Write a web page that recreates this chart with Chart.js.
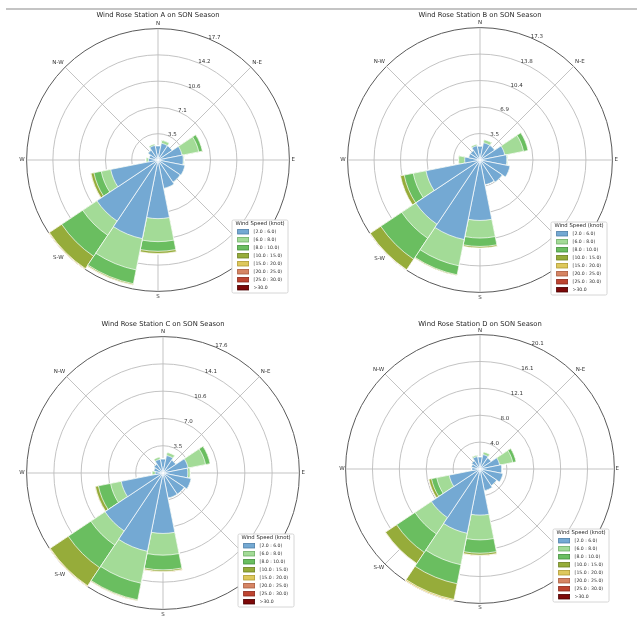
<!DOCTYPE html>
<html lang="en">
<head>
    <meta charset="UTF-8">
    <title>Wind Rose Stations A-D on SON Season</title>
    <script src="https://cdn.jsdelivr.net/npm/chart.js"></script>
    <style>
        html, body { margin: 0; padding: 0; background: #ffffff; }
        #page { position: relative; width: 637px; height: 632px; overflow: hidden; background: #ffffff; }
        #rule { position: absolute; left: 6px; top: 8px; width: 631px; height: 1.5px; background: #c4c4c4; }
        #page canvas { position: absolute; }
    </style>
</head>
<body>
<div id="page">
    <div id="rule"></div>
    <canvas id="roseA"></canvas>
    <canvas id="roseB"></canvas>
    <canvas id="roseC"></canvas>
    <canvas id="roseD"></canvas>
</div>
<script>
    // 16 sectors, clockwise from north
    const directions = ['N', 'NNE', 'NE', 'ENE', 'E', 'ESE', 'SE', 'SSE',
                        'S', 'SSW', 'SW', 'WSW', 'W', 'WNW', 'NW', 'NNW'];
    const compassNames = ['N', '', 'N-E', '', 'E', '', 'S-E', '', 'S', '', 'S-W', '', 'W', '', 'N-W', ''];

    // wind speed classes (knot)
    const speedBins = ['[2.0 : 6.0)', '[6.0 : 8.0)', '[8.0 : 10.0)', '[10.0 : 15.0)',
                       '[15.0 : 20.0)', '[20.0 : 25.0)', '[25.0 : 30.0)', '>30.0'];

    const none = [0, 0, 0, 0, 0, 0, 0, 0, 0, 0, 0, 0, 0, 0, 0, 0];

    // frequency (%) per direction and speed class - station A
    const a1 = [1.9, 2.3, 2.3, 3.3, 3.4, 3.7, 3.6, 3.9, 7.9, 10.8, 9.9, 6.5, 1.3, 1.2, 1.6, 2.0];
    const a2 = [0, 0.4, 0, 2.3, 0.1, 0, 0, 0, 3.1, 4.3, 2.3, 1.3, 0.3, 0, 0, 0.2];
    const a3 = [0, 0, 0, 0.5, 0, 0, 0, 0, 1.3, 1.9, 3.4, 1.0, 0, 0, 0, 0];
    const a4 = [0, 0, 0, 0, 0, 0, 0, 0, 0.3, 0.15, 2.0, 0.4, 0, 0, 0, 0];
    const a5 = [0, 0, 0, 0, 0, 0, 0, 0, 0.05, 0.05, 0.1, 0.05, 0, 0, 0, 0];

    // station B
    const b1 = [1.8, 2.3, 2.3, 3.3, 3.5, 4.0, 3.5, 3.3, 7.9, 10.6, 10.1, 7.2, 2.0, 1.5, 1.5, 1.9];
    const b2 = [0, 0.4, 0, 2.5, 0.1, 0, 0, 0, 2.3, 3.5, 2.2, 1.7, 0.8, 0, 0, 0.2];
    const b3 = [0, 0, 0, 0.6, 0, 0, 0, 0, 1.1, 1.2, 3.3, 1.2, 0, 0, 0, 0];
    const b4 = [0, 0, 0, 0, 0, 0, 0, 0, 0.2, 0.1, 1.65, 0.5, 0, 0, 0, 0];
    const b5 = [0, 0, 0, 0, 0, 0, 0, 0, 0, 0, 0.05, 0, 0, 0, 0, 0];

    // station C
    const c1 = [1.8, 2.3, 2.0, 3.3, 3.2, 3.7, 3.3, 3.3, 7.8, 10.3, 9.0, 5.5, 1.0, 1.2, 1.4, 1.8];
    const c2 = [0, 0.4, 0, 2.3, 0.3, 0, 0, 0, 2.8, 4.2, 2.2, 1.4, 0.4, 0, 0, 0.3];
    const c3 = [0, 0, 0, 0.6, 0, 0, 0, 0, 1.9, 2.2, 3.5, 1.6, 0, 0, 0, 0];
    const c4 = [0, 0, 0, 0, 0, 0, 0, 0, 0.2, 0.1, 2.8, 0.4, 0, 0, 0, 0];
    const c5 = [0, 0, 0, 0, 0, 0, 0, 0, 0.05, 0.05, 0.1, 0.05, 0, 0, 0, 0];

    // station D
    const d1 = [1.8, 2.2, 2.0, 3.0, 3.25, 3.5, 3.0, 3.3, 6.9, 9.8, 8.75, 4.7, 1.2, 1.3, 1.5, 1.9];
    const d2 = [0, 0.4, 0, 2.0, 0, 0, 0, 0, 3.7, 4.8, 2.95, 1.9, 0, 0, 0, 0.2];
    const d3 = [0, 0, 0, 0.5, 0, 0, 0, 0, 2.0, 2.9, 3.3, 0.8, 0, 0, 0, 0];
    const d4 = [0, 0, 0, 0, 0, 0, 0, 0, 0.3, 2.4, 2.0, 0.4, 0, 0, 0, 0];
    const d5 = [0, 0, 0, 0, 0, 0, 0, 0, 0.05, 0.2, 0.05, 0.05, 0, 0, 0, 0];

    const binColors = ['#74a9d3', '#a3db97', '#6abe60', '#96ac3a', '#dec85c', '#d68564', '#be4430', '#7d0808'];
    const binEdges  = ['#4f7fa8', '#6fae66', '#44903c', '#6d7f22', '#b09a30', '#a95a3e', '#8c2a1c', '#4a0000'];

    const FONT = 'DejaVu Sans';
    Chart.defaults.font.family = FONT;

    // panel placement on the page (px)
    const panels = [
        { id: 'roseA', title: 'Wind Rose Station A on SON Season', bins: [a1, a2, a3, a4, a5, none, none, none],
          left: 0, top: 0, width: 318, height: 316, cx: 158, cy: 161, half: 140, pad: 2, titleY: 15.7, legend: [232, 220] },
        { id: 'roseB', title: 'Wind Rose Station B on SON Season', bins: [b1, b2, b3, b4, b5, none, none, none],
          left: 318, top: 0, width: 319, height: 316, cx: 162, cy: 161, half: 141, pad: 2, titleY: 15.7, legend: [233, 222] },
        { id: 'roseC', title: 'Wind Rose Station C on SON Season', bins: [c1, c2, c3, c4, c5, none, none, none],
          left: 0, top: 316, width: 318, height: 316, cx: 163, cy: 158, half: 145, pad: 2, titleY: 8.3, legend: [238, 218] },
        { id: 'roseD', title: 'Wind Rose Station D on SON Season', bins: [d1, d2, d3, d4, d5, none, none, none],
          left: 318, top: 316, width: 319, height: 316, cx: 162, cy: 154, half: 142, pad: 1, titleY: 8.1, legend: [235, 213] }
    ];

    // radius labels at 22.5 deg and the speed legend box
    const roseExtras = {
        id: 'roseExtras',
        afterDraw(chart, args, opts) {
            const ctx = chart.ctx;
            const scale = chart.scales.compass;
            const a = 22.5 * Math.PI / 180;
            ctx.save();
            ctx.font = '5.5px "' + FONT + '"';
            ctx.fillStyle = '#333333';
            ctx.textAlign = 'left';
            ctx.textBaseline = 'middle';
            scale.ticks.forEach((t, i) => {
                if (i === 0) return;
                const d = scale.getDistanceFromCenterForValue(t.value);
                ctx.fillText(t.label, scale.xCenter + d * Math.sin(a), scale.yCenter - d * Math.cos(a) - 1);
            });

            const [lx, ly] = opts.position;
            const w = 56, h = 73;
            ctx.fillStyle = '#ffffff';
            ctx.strokeStyle = '#cccccc';
            ctx.lineWidth = 0.8;
            ctx.beginPath();
            ctx.roundRect(lx, ly, w, h, 1.5);
            ctx.fill();
            ctx.stroke();

            ctx.fillStyle = '#262626';
            ctx.textAlign = 'center';
            ctx.font = '5.3px "' + FONT + '"';
            ctx.fillText('Wind Speed (knot)', lx + w / 2, ly + 3.6);

            ctx.textAlign = 'left';
            ctx.font = '4.6px "' + FONT + '"';
            chart.data.datasets.forEach((ds, i) => {
                const y = ly + 11.7 + i * 8;
                ctx.fillStyle = binColors[i];
                ctx.strokeStyle = binEdges[i];
                ctx.lineWidth = 0.8;
                ctx.fillRect(lx + 5.6, y - 2.3, 11, 4.6);
                ctx.strokeRect(lx + 5.6, y - 2.3, 11, 4.6);
                ctx.fillStyle = '#333333';
                ctx.fillText(ds.label, lx + 21.6, y);
            });
            ctx.restore();
        }
    };

    function buildRose(p) {
        const canvas = document.getElementById(p.id);
        canvas.width = p.width;
        canvas.height = p.height;
        canvas.style.left = p.left + 'px';
        canvas.style.top = p.top + 'px';

        // stacked bars: each class drawn as the running total, smallest on top
        let running = none.slice();
        const stacks = p.bins.map(bin => {
            running = running.map((v, i) => v + bin[i]);
            return running.slice();
        });
        const rmax = Math.round(Math.max(...stacks[stacks.length - 1]) * 100) / 100;

        const datasets = stacks.map((vals, k) => ({
            label: speedBins[k],
            data: vals,
            rAxisID: 'r',
            backgroundColor: binColors[k],
            borderColor: '#ffffff',
            borderWidth: 0.7
        }));

        const titleSize = 6.8, titleLH = titleSize * 1.1;
        const areaTop = p.cy - p.half;
        const areaBottom = p.cy + p.half;
        let padL = 0, padR = 0;
        if (2 * p.cx <= p.width) padR = p.width - 2 * p.cx; else padL = 2 * p.cx - p.width;

        const labelFont = { family: FONT, size: 5.5, lineHeight: 1.2 };

        new Chart(canvas, {
            type: 'polarArea',
            data: { labels: directions, datasets: datasets },
            options: {
                responsive: false,
                animation: false,
                layout: { padding: { top: 0, left: padL, right: padR, bottom: p.height - areaBottom } },
                plugins: {
                    legend: { display: false },
                    tooltip: { enabled: false },
                    title: {
                        display: true,
                        text: p.title,
                        color: '#262626',
                        font: { family: FONT, size: titleSize, weight: 'normal', lineHeight: 1.1 },
                        padding: { top: p.titleY - titleLH / 2, bottom: Math.max(0, areaTop - p.titleY - titleLH / 2) }
                    },
                    roseExtras: { position: p.legend }
                },
                scales: {
                    r: {
                        type: 'radialLinear',
                        axis: 'r',
                        min: 0,
                        max: rmax,
                        startAngle: -11.25,
                        ticks: { display: false, count: 6 },
                        grid: { display: false },
                        angleLines: { display: false },
                        pointLabels: {
                            display: true,
                            centerPointLabels: true,
                            padding: p.pad,
                            font: labelFont,
                            color: 'rgba(0,0,0,0)',
                            callback: (v, i) => compassNames[i]
                        }
                    },
                    compass: {
                        type: 'radialLinear',
                        axis: 'r',
                        min: 0,
                        max: rmax,
                        startAngle: 0,
                        z: 1,
                        ticks: { display: false, count: 6, callback: v => v.toFixed(1) },
                        grid: {
                            display: true,
                            circular: true,
                            color: ctx => ctx.index === 5 ? '#5a5a5a' : '#bcbcbc',
                            lineWidth: ctx => ctx.index === 5 ? 1 : 0.9
                        },
                        angleLines: {
                            display: true,
                            color: '#bcbcbc',
                            lineWidth: ctx => ctx.index % 2 ? 0 : 0.9
                        },
                        pointLabels: {
                            display: true,
                            centerPointLabels: false,
                            padding: p.pad,
                            font: labelFont,
                            color: '#333333',
                            callback: (v, i) => compassNames[i]
                        }
                    }
                }
            },
            plugins: [roseExtras]
        });
    }

    panels.forEach(buildRose);
</script>
</body>
</html>
